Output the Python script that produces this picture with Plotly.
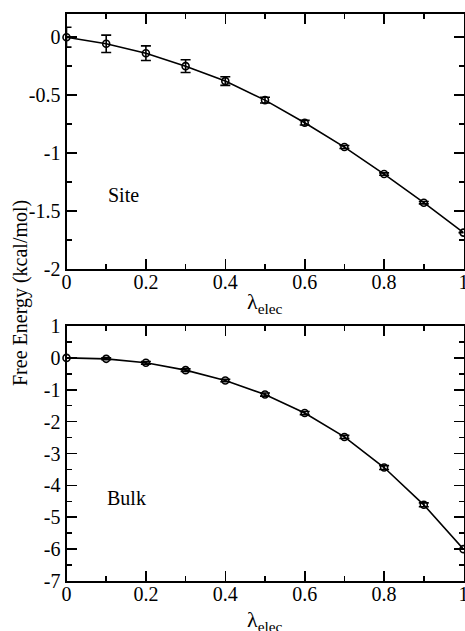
import plotly.graph_objects as go

lam = [0.0, 0.1, 0.2, 0.3, 0.4, 0.5, 0.6, 0.7, 0.8, 0.9, 1.0]
site_dg = [0.0, -0.057, -0.138, -0.25, -0.379, -0.543, -0.738, -0.948, -1.181, -1.428, -1.686]
site_err = [0.086, 0.075, 0.063, 0.055, 0.037, 0.025, 0.02, 0.013, 0.01, 0.01, 0.0]
bulk_dg = [0.0, -0.03, -0.155, -0.385, -0.71, -1.15, -1.73, -2.48, -3.44, -4.61, -6.0]
bulk_err = [0.0, 0.03, 0.04, 0.04, 0.04, 0.05, 0.05, 0.05, 0.06, 0.06, 0.0]

x_tickvals = [0, 0.2, 0.4, 0.6, 0.8, 1.0]
x_ticktext = ["0", "0.2", "0.4", "0.6", "0.8", "1"]
site_tickvals = [0, -0.5, -1, -1.5, -2]
site_ticktext = ["0", "-0.5", "-1", "-1.5", "-2"]
bulk_tickvals = [1, 0, -1, -2, -3, -4, -5, -6, -7]
bulk_ticktext = ["1", "0", "-1", "-2", "-3", "-4", "-5", "-6", "-7"]

FONT = "Liberation Serif, Times New Roman, serif"
W, H = 465, 631

def px(x):
    return x / W

def py(y):
    return 1 - y / H

fig = go.Figure()

def add_series(y, err, xa, ya):
    fig.add_trace(go.Scatter(
        x=lam, y=y, xaxis=xa, yaxis=ya, mode="lines+markers",
        line=dict(color="black", width=1.6),
        marker=dict(symbol="circle-open", size=7, color="black", line=dict(width=1.6)),
        error_y=dict(type="data", array=err, visible=True, color="black", thickness=1.6, width=5),
        cliponaxis=False, showlegend=False, hoverinfo="skip",
    ))

add_series(site_dg, site_err, "x", "y")
add_series(bulk_dg, bulk_err, "x2", "y2")

xdom = [px(66.5), px(463.5)]
top_dom = [py(269), py(14)]
bot_dom = [py(581), py(326)]

common_axis = dict(
    showgrid=False, zeroline=False, showline=True, linecolor="black", linewidth=2,
    mirror="ticks", ticks="inside", ticklen=10, tickwidth=1.6, tickcolor="black",
    tickfont=dict(family=FONT, size=20, color="black"), automargin=False,
    ticklabeloverflow="allow",
)

xaxis_common = dict(common_axis, range=[0, 1], tickmode="array",
                    tickvals=x_tickvals, ticktext=x_ticktext, ticklabelstandoff=-6,
                    minor=dict(dtick=0.1, tick0=0, ticks="inside", ticklen=5, tickwidth=1.6, tickcolor="black"))

tf = dict(family=FONT, size=20, color="black")

fig.update_layout(
    width=W, height=H, margin=dict(l=0, r=0, t=0, b=0, autoexpand=False),
    paper_bgcolor="white", plot_bgcolor="white",
    xaxis=dict(xaxis_common, domain=xdom, anchor="y"),
    yaxis=dict(common_axis, domain=top_dom, anchor="x", range=[-2, 0.2], tickmode="array",
               tickvals=site_tickvals, ticktext=site_ticktext,
               minor=dict(dtick=0.25, tick0=0, ticks="inside", ticklen=5, tickwidth=1.6, tickcolor="black")),
    xaxis2=dict(xaxis_common, domain=xdom, anchor="y2"),
    yaxis2=dict(common_axis, domain=bot_dom, anchor="x2", range=[-7, 1], tickmode="array",
                tickvals=bulk_tickvals, ticktext=bulk_ticktext,
                minor=dict(dtick=0.5, tick0=0, ticks="inside", ticklen=5, tickwidth=1.6, tickcolor="black")),
    annotations=[
        dict(text="Free Energy (kcal/mol)", x=px(20), y=py(293), xref="paper", yref="paper",
             xanchor="center", yanchor="middle",
             textangle=-90, showarrow=False, font=tf),
        dict(text="λ<sub>elec</sub>", x=px(264.5), y=py(303), xref="paper", yref="paper",
             xanchor="center", yanchor="middle",
             showarrow=False, font=dict(family=FONT, size=22, color="black")),
        dict(text="λ<sub>elec</sub>", x=px(264.5), y=py(621), xref="paper", yref="paper",
             xanchor="center", yanchor="middle",
             showarrow=False, font=dict(family=FONT, size=22, color="black")),
        dict(text="Site", x=0.1, y=-1.36, xref="x", yref="y", xanchor="left", showarrow=False, font=tf),
        dict(text="Bulk", x=0.097, y=-4.4, xref="x2", yref="y2", xanchor="left", showarrow=False, font=tf),
    ],
)

page_css = ("document.documentElement.style.margin='0';document.documentElement.style.overflow='hidden';"
            "document.body.style.margin='0';document.body.style.padding='0';document.body.style.overflow='hidden';")

fig.write_html("out.html", post_script=page_css, config={"displayModeBar": False, "staticPlot": True})
